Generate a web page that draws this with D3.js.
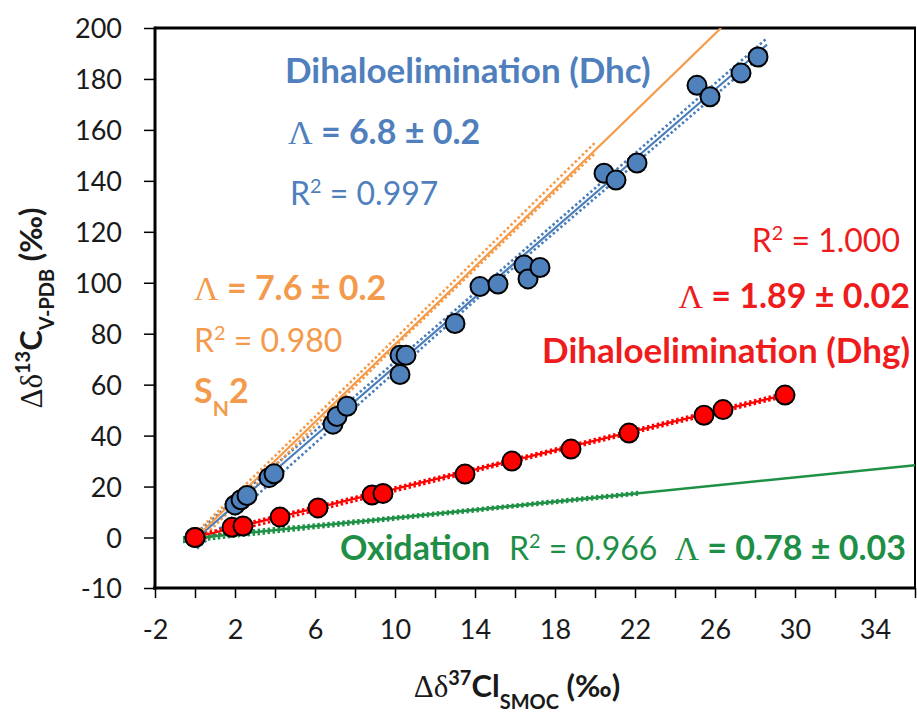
<!DOCTYPE html>
<html>
<head>
<meta charset="utf-8">
<script src="https://cdn.jsdelivr.net/npm/d3@7"></script>
<style>
  body { margin: 0; background: #fff; }
  text { font-family: Lato, "Open Sans", sans-serif; }
</style>
</head>
<body>
<div id="chart"></div>
<script>
// axis ticks
const xTicks = [-2, 0, 2, 4, 6, 8, 10, 12, 14, 16, 18, 20, 22, 24, 26, 28, 30, 32, 34, 36];
const xLabels = [-2, 2, 6, 10, 14, 18, 22, 26, 30, 34];
const yTicks = [-10, 0, 20, 40, 60, 80, 100, 120, 140, 160, 180, 200];

// measured points [dCl, dC]
const dhcPoints = [
  [0, 0], [2.0, 12.8], [2.3, 14.8], [2.6, 16.5], [3.7, 23.5], [3.95, 25],
  [6.9, 44.5], [7.1, 47.5], [7.6, 51.5], [10.25, 71.5], [10.55, 71.5], [10.25, 64],
  [13.0, 84], [14.25, 98.5], [15.15, 99.5], [16.45, 107], [16.65, 101.5], [17.25, 106],
  [20.45, 143], [21.05, 140.3], [22.1, 147], [25.1, 177.5], [25.75, 173], [27.3, 182.3], [28.15, 188.6]
];
const dhgPoints = [
  [0, 0], [1.85, 4], [2.4, 4.5], [4.25, 8], [6.15, 11.6], [8.85, 16.7], [9.4, 17.3],
  [13.5, 24.9], [15.85, 30], [18.8, 34.7], [21.7, 41], [25.45, 48], [26.4, 50.2], [29.5, 55.9]
];

// regression lines and their confidence bands
const dhcFit = [[0.1, -0.1], [28.6, 193.5]];
const dhcUpper = [[0.1, 2.0], [14, 96.0], [28.6, 196.0]];
const dhcLower = [[0.1, -2.2], [14, 93.0], [28.6, 191.0]];
const sn2Fit = [[0.05, 0], [26.3, 200]];
const sn2Upper = [[0.05, 1.8], [10, 78.0], [20, 155.0]];
const sn2Lower = [[0.05, -1.4], [10, 75.0], [20, 150.8]];
const dhgFit = [[0, 0.1], [29.5, 56]];
const dhgUpper = [[0, 0.8], [15, 29.1], [29.5, 56.7]];
const dhgLower = [[0, -0.6], [15, 27.9], [29.5, 55.3]];
const oxFit = [[-0.6, -0.4], [36, 28.4]];
const oxUpper = [[-0.6, 0.1], [11, 8.9], [22.2, 17.9]];
const oxLower = [[-0.6, -0.9], [11, 7.9], [22.2, 16.9]];

const blue = '#4a7ebb', orange = '#f59a48', red = '#ff0000', green = '#1e9146';
const blueTxt = '#4f7fbd', orangeTxt = '#f39a4c', redTxt = '#ee1c1c', greenTxt = '#1f8f47';

const width = 917, height = 717;
const plot = {left: 155, right: 915, top: 28, bottom: 588};

const svg = d3.select('#chart').append('svg').attr('width', width).attr('height', height);

const x = d3.scaleLinear().domain([-2, 36]).range([plot.left, plot.right]);
const y = d3.scaleLinear().domain([-10, 0, 200]).range([plot.bottom, 537.5, plot.top]);

svg.append('defs').append('clipPath').attr('id', 'clip')
  .append('rect')
  .attr('x', plot.left).attr('y', plot.top)
  .attr('width', plot.right - plot.left).attr('height', plot.bottom - plot.top);

// frame (top and right)
svg.append('line').attr('x1', plot.left).attr('x2', plot.right + 1)
  .attr('y1', plot.top).attr('y2', plot.top).attr('stroke', '#000').attr('stroke-width', 3);
svg.append('line').attr('x1', plot.right).attr('x2', plot.right)
  .attr('y1', plot.top).attr('y2', plot.bottom).attr('stroke', '#000').attr('stroke-width', 2);

// axes (plain hyphen for negatives, like the original)
const fmt = d => String(d);
const xAxis = svg.append('g').attr('class', 'x-axis')
  .attr('transform', `translate(0, ${plot.bottom})`)
  .call(d3.axisBottom(x).tickValues(xTicks).tickSize(10).tickPadding(22)
    .tickFormat(d => xLabels.includes(d) ? fmt(d) : ''));
const yAxis = svg.append('g').attr('class', 'y-axis')
  .attr('transform', `translate(${plot.left}, 0)`)
  .call(d3.axisLeft(y).tickValues(yTicks).tickSize(11).tickPadding(22).tickFormat(fmt));

[xAxis, yAxis].forEach(a => {
  a.select('.domain').attr('stroke', '#000').attr('stroke-width', 3);
  a.selectAll('.tick line').attr('stroke', '#000').attr('stroke-width', 1.5);
  a.selectAll('.tick text').attr('fill', '#1a1a1a').style('font-size', '27px')
    .style('font-family', 'Lato, sans-serif');
});
xAxis.select('.domain').attr('d', `M${plot.left - 2},0H${plot.right + 1}`);
yAxis.select('.domain').attr('d', `M0,${plot.top - 1.5}V${plot.bottom + 1.5}`);
yAxis.selectAll('.tick text').attr('dy', '0.36em');

// lines
const chart = svg.append('g').attr('clip-path', 'url(#clip)');
const line = d3.line().x(d => x(d[0])).y(d => y(d[1]));

const bands = [
  [dhcUpper, blue], [dhcLower, blue], [sn2Upper, orange], [sn2Lower, orange],
  [dhgUpper, red], [dhgLower, red], [oxUpper, green], [oxLower, green]
];
chart.selectAll('path.band')
  .data(bands)
  .join('path')
  .attr('class', 'band')
  .attr('d', d => line(d[0]))
  .attr('fill', 'none')
  .attr('stroke', d => d[1])
  .attr('stroke-width', 2.6)
  .attr('stroke-dasharray', '2.5,2.5');

const fits = [[oxFit, green, 2.5], [dhgFit, red, 2.2], [dhcFit, blue, 2.2], [sn2Fit, orange, 2.2]];
chart.selectAll('path.fit')
  .data(fits)
  .join('path')
  .attr('class', 'fit')
  .attr('d', d => line(d[0]))
  .attr('fill', 'none')
  .attr('stroke', d => d[1])
  .attr('stroke-width', d => d[2]);

// points
chart.selectAll('circle.dhc')
  .data(dhcPoints)
  .join('circle')
  .attr('class', 'dhc')
  .attr('cx', d => x(d[0])).attr('cy', d => y(d[1]))
  .attr('r', 9.5)
  .attr('fill', '#4f81bd').attr('stroke', '#000').attr('stroke-width', 2);

chart.selectAll('circle.dhg')
  .data(dhgPoints)
  .join('circle')
  .attr('class', 'dhg')
  .attr('cx', d => x(d[0])).attr('cy', d => y(d[1]))
  .attr('r', 9.5)
  .attr('fill', '#ff0000').attr('stroke', '#000').attr('stroke-width', 2);

// annotations
const serif = '"Liberation Serif", "DejaVu Serif", serif';
function label(px, py, color, parts, size) {
  const t = svg.append('text').attr('x', px).attr('y', py).attr('fill', color)
    .style('font-size', size + 'px');
  parts.forEach(p => {
    const s = t.append('tspan').text(p.t);
    if (p.bold) s.style('font-weight', 700);
    if (p.serif) s.style('font-family', serif);
    if (p.sup) s.attr('baseline-shift', 'super').style('font-size', (size * 0.62) + 'px');
    if (p.sub) s.attr('baseline-shift', 'sub').style('font-size', (size * 0.62) + 'px');
  });
  return t;
}

label(285, 83, blueTxt, [{t: 'Dihaloelimination (Dhc)', bold: true}], 35);
label(288, 144, blueTxt, [{t: 'Λ', serif: true}, {t: ' = 6.8 ± 0.2', bold: true}], 34);
label(290, 205, blueTxt, [{t: 'R'}, {t: '2', sup: true}, {t: ' = 0.997'}], 32);

label(194, 300, orangeTxt, [{t: 'Λ', serif: true}, {t: ' = 7.6 ± 0.2', bold: true}], 34);
label(194, 352, orangeTxt, [{t: 'R'}, {t: '2', sup: true}, {t: ' = 0.980'}], 32);
label(194, 403, orangeTxt, [{t: 'S', bold: true}, {t: 'N', bold: true, sub: true}, {t: '2', bold: true}], 34);

label(900, 252, redTxt, [{t: 'R'}, {t: '2', sup: true}, {t: ' = 1.000'}], 32).attr('text-anchor', 'end');
label(910, 308, redTxt, [{t: 'Λ', serif: true}, {t: ' = 1.89 ± 0.02', bold: true}], 34).attr('text-anchor', 'end');
label(910, 363, redTxt, [{t: 'Dihaloelimination (Dhg)', bold: true}], 35).attr('text-anchor', 'end');

label(340, 560, greenTxt, [{t: 'Oxidation', bold: true}], 34);
label(509, 560, greenTxt, [{t: 'R'}, {t: '2', sup: true}, {t: ' = 0.966'}], 32);
label(906, 560, greenTxt, [{t: 'Λ', serif: true}, {t: ' = 0.78 ± 0.03', bold: true}], 34).attr('text-anchor', 'end');

// axis titles
const xt = svg.append('text').attr('x', 517).attr('y', 697).attr('text-anchor', 'middle')
  .attr('fill', '#1a1a1a').style('font-size', '31px').style('font-weight', 700);
xt.append('tspan').text('Δδ').style('font-family', serif).style('font-weight', 400);
xt.append('tspan').text('37').attr('baseline-shift', 'super').style('font-size', '20px');
xt.append('tspan').text('Cl');
xt.append('tspan').text('SMOC').attr('baseline-shift', 'sub').style('font-size', '20px');
xt.append('tspan').text(' (‰)');

const yt = svg.append('text').attr('transform', 'translate(42, 308) rotate(-90)')
  .attr('text-anchor', 'middle')
  .attr('fill', '#1a1a1a').style('font-size', '31px').style('font-weight', 700);
yt.append('tspan').text('Δδ').style('font-family', serif).style('font-weight', 400);
yt.append('tspan').text('13').attr('baseline-shift', 'super').style('font-size', '20px');
yt.append('tspan').text('C');
yt.append('tspan').text('V-PDB').attr('baseline-shift', 'sub').style('font-size', '20px');
yt.append('tspan').text(' (‰)');
</script>
</body>
</html>
